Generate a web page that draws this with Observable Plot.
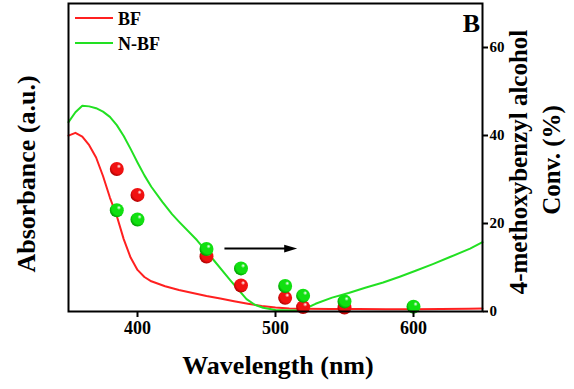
<!DOCTYPE html>
<html><head><meta charset="utf-8">
<script src="https://cdn.jsdelivr.net/npm/d3@7"></script>
<script src="https://cdn.jsdelivr.net/npm/@observablehq/plot@0.6"></script>
<style>
body{margin:0;background:#fff}
#chart{position:relative;width:574px;height:389px}
</style>
</head><body><div id="chart"></div>
<script>
// ---- data ----
const bfWavelength  = [350,355,360,365,370,375,380,385,390,395,400,405,410,420,430,440,450,460,470,480,490,500,510,520,540,560,580,600,620,640,650];
const bfAbsorbance  = [0.571,0.58,0.568,0.54,0.50,0.44,0.37,0.31,0.235,0.175,0.135,0.112,0.098,0.082,0.07,0.06,0.05,0.042,0.033,0.025,0.018,0.013,0.010,0.009,0.008,0.008,0.007,0.007,0.008,0.009,0.010];
const nbfWavelength = [350,355,360,365,370,375,380,385,390,395,400,405,410,418,425,430,443,455,467,479,485,491,500,510,519,529,541,553,565,578,590,602,614,626,641,650];
const nbfAbsorbance = [0.615,0.647,0.668,0.666,0.660,0.649,0.632,0.605,0.57,0.528,0.484,0.442,0.405,0.356,0.316,0.292,0.232,0.168,0.103,0.04,0.022,0.012,0.005,0.003,0.004,0.025,0.045,0.06,0.077,0.094,0.113,0.133,0.154,0.176,0.204,0.225];
const bfConvWavelength  = [385,400,450,475,507,520,550];
const bfConv            = [32.4,26.5,12.5,5.9,3.1,1.0,0.9];
const nbfConvWavelength = [385,400,450,475,507,520,550,600];
const nbfConv           = [23.0,20.9,14.2,9.8,5.8,3.6,2.3,1.1];
const xTicks = [400,500,600];
const convTicks = [0,20,40,60];
const arrowFrom = 463, arrowTo = 511, arrowLevel = 14.3;

// ---- build ----
const RED = "#ff2020", GREEN = "#22e022";
const DOT_RED = "#f01111", DOT_GREEN = "#11e011";
const ABS_TOP = 1.0, CONV_TOP = 70;   // absorbance (a.u.) mapped onto the right-hand scale
const bf  = bfWavelength.map((w,i)=>({w, v: bfAbsorbance[i]*CONV_TOP/ABS_TOP}));
const nbf = nbfWavelength.map((w,i)=>({w, v: nbfAbsorbance[i]*CONV_TOP/ABS_TOP}));
const bfPts  = bfConvWavelength.map((w,i)=>({w, c: bfConv[i]}));
const nbfPts = nbfConvWavelength.map((w,i)=>({w, c: nbfConv[i]}));
const arrow = [{x1: arrowFrom, x2: arrowTo, y: arrowLevel}];
const head = {draw(ctx){ ctx.moveTo(6.5,0); ctx.lineTo(-6.5,-3.8); ctx.lineTo(-6.5,3.8); ctx.closePath(); }};
const FONT = "'Liberation Serif','Times New Roman',serif";

const plot = Plot.plot({
  width: 574, height: 389,
  marginLeft: 68, marginRight: 92, marginTop: 3, marginBottom: 78,
  style: {fontFamily: FONT, fontWeight: "bold", background: "#fff", color: "#000"},
  x: {domain: [350, 650]},
  y: {domain: [0, 70]},
  marks: [
    Plot.line(bf,  {x: "w", y: "v", stroke: RED, strokeWidth: 2}),
    Plot.line(nbf, {x: "w", y: "v", stroke: GREEN, strokeWidth: 2}),
    Plot.dot(bfPts,  {x: "w", y: "c", r: 7, fill: DOT_RED}),
    Plot.dot(nbfPts, {x: "w", y: "c", r: 7, fill: DOT_GREEN}),
    Plot.link(arrow, {x1: "x1", x2: "x2", y1: "y", y2: "y", stroke: "black", strokeWidth: 2}),
    Plot.dot(arrow, {x: "x2", y: "y", symbol: head, fill: "black", r: 5}),
    Plot.axisX({ticks: xTicks, tickSize: 6, tickPadding: 4, fontSize: 18, strokeWidth: 2, label: null}),
    Plot.axisY({anchor: "right", ticks: convTicks, tickSize: 5, tickPadding: 2, fontSize: 15, strokeWidth: 2, label: null}),
    Plot.frame({stroke: "black", strokeWidth: 2})
  ]
});

const svg = d3.select(plot);
const defs = svg.insert("defs", ":first-child");
function sphere(id, base, dark){
  const g = defs.append("radialGradient").attr("id", id).attr("cx","60%").attr("cy","38%").attr("r","62%").attr("fx","66%").attr("fy","30%");
  g.append("stop").attr("offset","0%").attr("stop-color","#ffffff");
  g.append("stop").attr("offset","25%").attr("stop-color",base);
  g.append("stop").attr("offset","75%").attr("stop-color",base);
  g.append("stop").attr("offset","100%").attr("stop-color",dark);
}
sphere("gR", DOT_RED, "#b00000");
sphere("gG", DOT_GREEN, "#00a000");
// give the conversion dots a glossy sphere look
plot.querySelectorAll("circle").forEach(c => {
  const own = c.getAttribute("fill"), par = c.parentNode.getAttribute("fill");
  const f = (own || par || "").toLowerCase();
  if (f === DOT_RED.toLowerCase()) c.setAttribute("fill", "url(#gR)");
  else if (f === DOT_GREEN.toLowerCase()) c.setAttribute("fill", "url(#gG)");
});

const ann = svg.append("g").attr("font-family", FONT).attr("font-weight","bold").attr("fill","#000").attr("text-anchor","start");
// legend
[[RED,"BF",18],[GREEN,"N-BF",43]].forEach(([c,t,y])=>{
  ann.append("line").attr("x1",75).attr("x2",113).attr("y1",y).attr("y2",y).attr("stroke",c).attr("stroke-width",2);
  ann.append("text").attr("x",118).attr("y",y+7).attr("font-size",18).attr("text-anchor","start").text(t);
});
ann.append("text").attr("x",480).attr("y",32).attr("text-anchor","end").attr("font-size",26).text("B");
ann.append("text").attr("x",278).attr("y",374).attr("text-anchor","middle").attr("font-size",26).text("Wavelength (nm)");
ann.append("text").attr("transform","translate(35,174) rotate(-90)").attr("text-anchor","middle").attr("font-size",26).text("Absorbance (a.u.)");
ann.append("text").attr("transform","translate(527,162) rotate(-90)").attr("text-anchor","middle").attr("font-size",25).text("4-methoxybenzyl alcohol");
ann.append("text").attr("transform","translate(560,160) rotate(-90)").attr("text-anchor","middle").attr("font-size",25).text("Conv. (%)");

document.getElementById("chart").appendChild(plot);
</script>
</body></html>
